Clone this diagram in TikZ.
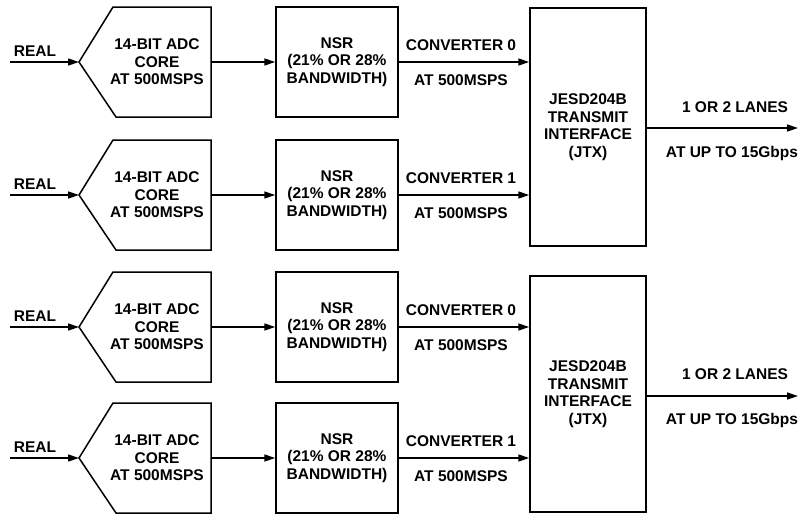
\documentclass[tikz,border=0pt]{standalone}
\usepackage{fontspec}
\setmainfont{Liberation Sans}
\usetikzlibrary{arrows.meta,calc}
\begin{document}
\begin{tikzpicture}[x=1pt,y=-1pt,
  every node/.style={font=\fontsize{15.5}{17.5}\selectfont\bfseries, inner sep=0pt},
  blk/.style={draw, line width=1.5pt, align=center},
  arr/.style={line width=1.5pt, -{Triangle[length=11pt,width=7pt]}},
  lbl/.style={anchor=base}]
\useasboundingbox (0,0) rectangle (805,514);
% ADC rows
\foreach \i/\c in {1/62,2/195,3/327,4/458}{
  \coordinate (in\i) at (10,\c);
  \coordinate (tip\i) at (79,\c);
  \draw[line width=1.5pt, line join=miter] (tip\i) -- (113,\c-55) -- (211,\c-55) -- (211,\c+55) -- (116,\c+55) -- cycle;
  \coordinate (adcout\i) at (211,\c);
  \node[align=center] (adc\i) at (157,\c) {14-BIT ADC\\CORE\\AT 500MSPS};
  \node[lbl] (real\i) at (35,\c-5.5) {REAL};
  \draw[arr] (in\i) -- (tip\i);
  \node[blk, minimum width=122pt, minimum height=110pt] (nsr\i) at (337,\c) {NSR\\(21\% OR 28\%\\BANDWIDTH)};
  \draw[arr] (adcout\i) -- (nsr\i.west);
}
% JESD blocks
\node[blk, minimum width=116pt, minimum height=238pt] (jtx1) at (588,127) {JESD204B\\TRANSMIT\\INTERFACE\\(JTX)};
\node[blk, minimum width=116pt, minimum height=236pt] (jtx2) at (588,394) {JESD204B\\TRANSMIT\\INTERFACE\\(JTX)};
% converter arrows
\draw[arr] (nsr1.east) -- (nsr1.east -| jtx1.west);
\draw[arr] (nsr2.east) -- (nsr2.east -| jtx1.west);
\draw[arr] (nsr3.east) -- (nsr3.east -| jtx2.west);
\draw[arr] (nsr4.east) -- (nsr4.east -| jtx2.west);
\foreach \i/\c/\n in {1/62/0,2/195/1,3/327/0,4/458/1}{
  \node[lbl] (conv\i) at (461,\c-11.5) {CONVERTER \n};
  \node[lbl] (rate\i) at (461,\c+23.5) {AT 500MSPS};
}
% outputs
\coordinate (out1) at (798,128);
\coordinate (out2) at (798,396);
\draw[arr] (jtx1.east |- out1) -- (out1);
\draw[arr] (jtx2.east |- out2) -- (out2);
\node[lbl] (lanes1) at (735,112.5) {1 OR 2 LANES};
\node[lbl] (speed1) at (732,157.5) {AT UP TO 15Gbps};
\node[lbl] (lanes2) at (735,379.5) {1 OR 2 LANES};
\node[lbl] (speed2) at (732,424.5) {AT UP TO 15Gbps};
\end{tikzpicture}
\end{document}
